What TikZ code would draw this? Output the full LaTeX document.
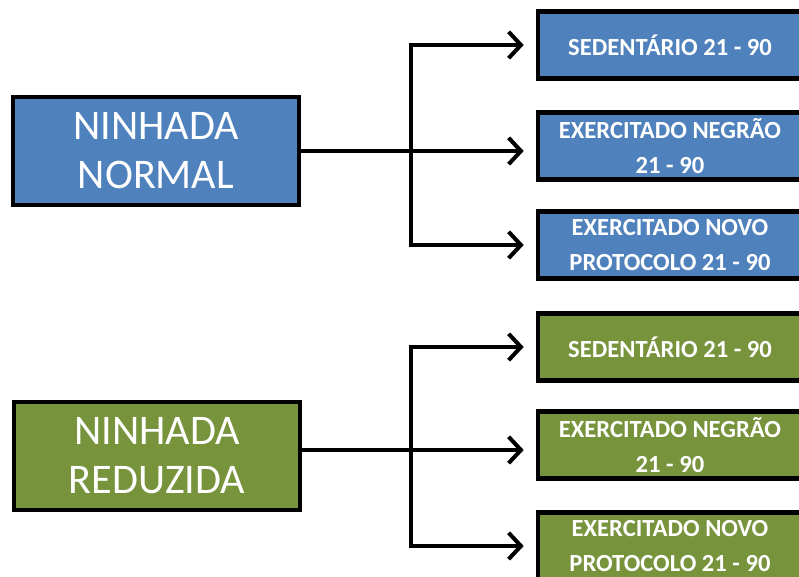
\documentclass[tikz,border=0pt]{standalone}
\usepackage{fontspec}
\setmainfont{Carlito}
\usetikzlibrary{arrows.meta}
\definecolor{boxblue}{RGB}{79,129,189}
\definecolor{boxgreen}{RGB}{119,147,60}
\tikzset{
  arr/.style={draw=black,line width=2.3pt,-{Straight Barb[length=7pt,width=15pt]},shorten >=7pt},
  big/.style={draw=black,line width=2.3pt,text=white,align=center,inner sep=0pt,
    minimum width=5.74cm,minimum height=2.16cm,font=\fontsize{24}{28}\selectfont},
  small/.style={draw=black,line width=2.3pt,text=white,align=center,inner sep=0pt,
    minimum width=5.28cm,minimum height=1.34cm,font=\bfseries\fontsize{14}{20}\selectfont}
}

\begin{document}
\begin{tikzpicture}[x=0.02cm,y=-0.02cm]
    \useasboundingbox (0,0) rectangle (799,577);
    \clip (0,0) rectangle (799,577);
    % first group
    \node[big,fill=boxblue] (nn) at (156,151) {NINHADA\\NORMAL};
    \node[small,fill=boxblue] (s1) at (670,45) {SEDENTÁRIO 21 - 90};
    \node[small,fill=boxblue] (e1) at (670,146) {EXERCITADO NEGRÃO\\21 - 90};
    \node[small,fill=boxblue] (p1) at (670,245) {EXERCITADO NOVO\\PROTOCOLO 21 - 90};
    \coordinate (j1) at (411,151);
    \draw [arr] (nn.east) -- (nn.east -| e1.west);
    \draw [arr] (j1) |- (s1.west);
    \draw [arr] (j1) |- (p1.west);
    % second group
    \node[big,fill=boxgreen] (nr) at (157,456) {NINHADA\\REDUZIDA};
    \node[small,fill=boxgreen] (s2) at (670,347) {SEDENTÁRIO 21 - 90};
    \node[small,fill=boxgreen] (e2) at (670,445) {EXERCITADO NEGRÃO\\21 - 90};
    \node[small,fill=boxgreen] (p2) at (670,546) {EXERCITADO NOVO\\PROTOCOLO 21 - 90};
    \coordinate (j2) at (411,450);
    \draw [arr] (nr.east |- j2) -- (j2 -| e2.west);
    \draw [arr] (j2) |- (s2.west);
    \draw [arr] (j2) |- (p2.west);
\end{tikzpicture}
\end{document}
